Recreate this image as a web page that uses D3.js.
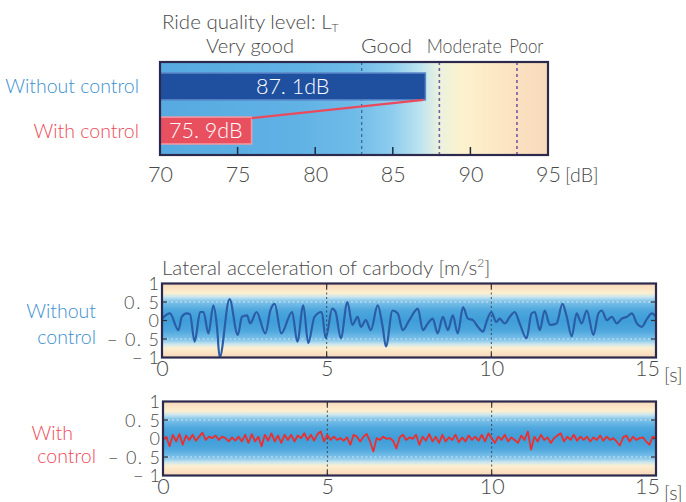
<!DOCTYPE html>
<html>
<head>
<meta charset="utf-8">
<script src="https://cdn.jsdelivr.net/npm/d3@7/dist/d3.min.js"></script>
<style>
  html, body { margin: 0; padding: 0; background: #fff; }
  svg { display: block; font-family: "Lato", "Open Sans", sans-serif; font-weight: 300; }
</style>
</head>
<body>
<svg id="chart" width="686" height="502"></svg>
<script>
// ---------------- DATA ----------------
const rideCategories = ["Without control", "With control"];
const rideValues = [87.1, 75.9];
const rideValueLabels = ["87. 1dB", "75. 9dB"];
const rideTicks = [70, 75, 80, 85, 90, 95];
const rideBoundaries = [83, 88, 93];
const rideLevels = [
  { label: "Very good", at: 75.8 },
  { label: "Good", at: 84.6 },
  { label: "Moderate", at: 89.6 },
  { label: "Poor", at: 93.6 }
];

const timeTicks = [0, 5, 10, 15];
const accelTicks = [1, 0.5, 0, -0.5, -1];
const accelTickLabels = ["1", "0. 5", "0", "\u2212 0. 5", "\u2212 1"];

// Without control: time [s] and lateral acceleration [m/s^2]
const timeWithout = [
  0.00, 0.24, 0.50, 0.60, 0.75, 0.85, 0.99, 1.16, 1.26, 1.41, 1.56, 1.67, 1.75, 2.05, 2.30, 2.43, 2.58, 2.68, 2.87,
  3.14, 3.29, 3.42, 3.62, 3.95, 4.11, 4.29, 4.44, 4.63, 4.85, 4.97, 5.17, 5.27, 5.43, 5.63, 5.78, 5.94, 6.04, 6.19,
  6.34, 6.55, 6.70, 6.80, 7.00, 7.16, 7.31, 7.51, 7.77, 7.92, 8.07, 8.22, 8.37, 8.53, 8.68, 8.83, 8.98, 9.14, 9.29,
  9.44, 9.59, 9.75, 9.85, 10.00, 10.15, 10.25, 10.41, 10.56, 10.71, 10.86, 11.07, 11.22, 11.32, 11.47, 11.62, 11.78,
  11.98, 12.16, 12.29, 12.44, 12.59, 12.74, 12.90, 13.10, 13.25, 13.35, 13.51, 13.66, 13.81, 13.96, 14.12, 14.27,
  14.42, 14.57, 14.73, 14.88, 15.00
];
const accelWithout = [
  0.05, 0.19, -0.26, 0.10, 0.19, 0.17, -0.57, 0.23, 0.23, -0.35, 0.41, -0.17, -1.00, 0.58, -0.39, 0.10, 0.14, -0.08, 0.23,
  -0.35, 0.27, 0.45, -0.35, 0.23, -0.57, 0.41, -0.61, 0.10, 0.23, -0.48, 0.32, 0.23, -0.48, 0.50, -0.12, 0.10, -0.17, 0.01,
  -0.26, 0.41, -0.17, -0.70, 0.27, 0.19, -0.26, 0.01, 0.32, -0.26, -0.08, 0.05, -0.35, 0.10, -0.26, 0.14, -0.35, 0.36, 0.05,
  0.01, -0.17, -0.30, -0.04, 0.23, -0.04, 0.05, -0.08, 0.10, 0.23, -0.08, -0.48, 0.19, 0.23, -0.26, 0.27, -0.12,
  -0.08, 0.45, 0.10, -0.43, 0.19, -0.08, 0.27, -0.39, 0.19, 0.27, 0.01, 0.10, -0.08, 0.05, 0.10, 0.19,
  -0.08, -0.17, 0.05, 0.19, 0.10
];

// With control: sampled every 0.1 s from 0 to 15 s
const sampleStep = 0.1;
const accelWith = [
  -0.04, 0.05, -0.21, 0.10, -0.08, 0.12, -0.17, 0.08, -0.04, 0.10,
  -0.06, 0.05, 0.16, -0.04, 0.05, 0.01, 0.08, -0.04, 0.05, 0.01,
  -0.08, 0.03, -0.06, 0.05, -0.08, 0.10, -0.12, 0.12, -0.08, 0.05,
  -0.21, 0.10, -0.06, 0.14, -0.08, 0.08, -0.12, 0.10, -0.04, 0.10,
  -0.08, 0.08, 0.01, 0.14, -0.04, 0.10, -0.06, 0.12, 0.19, -0.08,
  0.10, -0.04, 0.05, -0.04, 0.01, -0.06, 0.03, -0.17, 0.10, 0.05,
  -0.08, 0.05, 0.12, -0.08, -0.35, 0.01, -0.04, 0.05, -0.01, 0.01,
  -0.06, -0.27, 0.03, 0.10, -0.04, 0.03, -0.01,
  0.10, -0.17, 0.05, -0.06, 0.12, -0.08, 0.05, -0.12, 0.10, -0.08,
  0.03, -0.04, 0.10, -0.10, 0.03, -0.08, 0.08, -0.04, 0.05, -0.06,
  0.10, -0.08, 0.14, 0.01, -0.12, 0.05, -0.04, 0.10, -0.08, 0.03,
  -0.04, -0.12, 0.08, -0.04, 0.19, -0.30, 0.05, -0.08, 0.10, -0.04,
  0.03, -0.12, 0.01, 0.08, 0.14, -0.08, 0.05, -0.04, 0.10, -0.06,
  0.05, -0.04, 0.05, -0.08, 0.03, -0.04, 0.08, -0.06, 0.05, -0.04,
  0.01, -0.08, -0.19, 0.03, 0.08, -0.08, 0.05, -0.04, 0.01, 0.03,
  -0.08, -0.17, 0.05, 0.01
];

// ---------------- COLOURS ----------------
const cBlueText = "#3b8fd0";
const cRedText = "#ee4a5a";
const cFrame = "#2b2a4e";
const cText = "#4a4a4a";

const svg = d3.select("#chart");
const defs = svg.append("defs");

// ================= TOP: ride quality bar chart =================
const xRide = d3.scaleLinear().domain([70, 95]).range([160, 548]);
const yRide = d3.scaleBand().domain(rideCategories).range([62, 155]).paddingInner(0.39).paddingOuter(0.25);

const gradRide = defs.append("linearGradient").attr("id", "gradRide")
  .attr("gradientUnits", "userSpaceOnUse")
  .attr("x1", xRide(70)).attr("x2", xRide(95)).attr("y1", 0).attr("y2", 0);
[[0, "#56aadf"], [0.35, "#60b2e5"], [0.5, "#6ebbe8"], [0.6, "#8ecdee"], [0.67, "#bde3ef"],
 [0.72, "#eaf2de"], [0.78, "#fdf2cd"], [0.88, "#fce6c4"], [1, "#f8d9bb"]]
  .forEach(([o, c]) => gradRide.append("stop").attr("offset", o).attr("stop-color", c));

const gTop = svg.append("g");
gTop.append("rect")
  .attr("x", xRide(70)).attr("y", 62)
  .attr("width", xRide(95) - xRide(70)).attr("height", 93)
  .attr("fill", "url(#gradRide)");

gTop.selectAll("line.bound").data(rideBoundaries).enter().append("line")
  .attr("x1", d => xRide(d)).attr("x2", d => xRide(d))
  .attr("y1", 62).attr("y2", 155)
  .attr("stroke", (d, i) => i === 0 ? "#2e4f7a" : "#7a5aa0")
  .attr("stroke-width", (d, i) => i === 0 ? 1 : 1.6)
  .attr("stroke-dasharray", "3,3");

gTop.selectAll("line.tk").data(rideTicks.slice(1, -1)).enter().append("line")
  .attr("x1", d => xRide(d)).attr("x2", d => xRide(d))
  .attr("y1", 155).attr("y2", 147)
  .attr("stroke", "#1e2a40").attr("stroke-width", 1.5);

const barColors = ["#1f4f9f", "#e9505f"];
const barStroke = ["#5a86c8", "#f59aa3"];
gTop.selectAll("rect.bar").data(rideValues).enter().append("rect")
  .attr("x", xRide(70))
  .attr("y", (d, i) => yRide(rideCategories[i]))
  .attr("width", d => xRide(d) - xRide(70))
  .attr("height", yRide.bandwidth())
  .attr("fill", (d, i) => barColors[i])
  .attr("stroke", (d, i) => barStroke[i]).attr("stroke-width", 1.5);

gTop.append("line")
  .attr("x1", xRide(rideValues[0]) - 2)
  .attr("y1", yRide(rideCategories[0]) + yRide.bandwidth())
  .attr("x2", xRide(rideValues[1]))
  .attr("y2", yRide(rideCategories[1]) + 1)
  .attr("stroke", "#ea4a5b").attr("stroke-width", 2.2);

gTop.selectAll("text.bl").data(rideValues).enter().append("text")
  .attr("x", d => (xRide(d) + xRide(70)) / 2)
  .attr("y", (d, i) => yRide(rideCategories[i]) + yRide.bandwidth() / 2 + 7.5)
  .attr("text-anchor", "middle").attr("fill", "#fff")
  .attr("font-size", 21.5)
  .text((d, i) => rideValueLabels[i]);

gTop.append("rect")
  .attr("x", xRide(70)).attr("y", 62)
  .attr("width", xRide(95) - xRide(70)).attr("height", 93)
  .attr("fill", "none").attr("stroke", cFrame).attr("stroke-width", 2.2);

gTop.selectAll("text.cat").data(rideCategories).enter().append("text")
  .attr("x", 139)
  .attr("y", d => yRide(d) + yRide.bandwidth() / 2 + 7)
  .attr("text-anchor", "end")
  .attr("font-size", 19.5)
  .attr("fill", (d, i) => i === 0 ? cBlueText : cRedText)
  .text(d => d);

const axRide = d3.axisBottom(xRide).tickValues(rideTicks).tickSize(0).tickPadding(0).tickFormat(d3.format("d"));
const axRideG = gTop.append("g").attr("transform", "translate(0,162)").call(axRide);
axRideG.select(".domain").remove();
axRideG.selectAll("text").attr("font-size", 21.5).attr("fill", cText)
  .attr("font-family", "Lato, sans-serif").attr("font-weight", 300).attr("dy", "0.95em");
gTop.append("text").attr("x", 565).attr("y", 182).attr("font-size", 19.5).attr("fill", cText).text("[dB]");

const t1 = gTop.append("text").attr("x", 162).attr("y", 29).attr("font-size", 20.5).attr("fill", cText);
t1.append("tspan").text("Ride quality level: L");
t1.append("tspan").attr("font-size", 12).attr("dy", 3).text("T");

const levelWidths = [88, 51, 75, 34];
gTop.selectAll("text.lvl").data(rideLevels).enter().append("text")
  .attr("x", d => xRide(d.at)).attr("y", 53)
  .attr("text-anchor", "middle").attr("font-size", 20).attr("fill", cText)
  .attr("textLength", (d, i) => levelWidths[i])
  .attr("lengthAdjust", "spacingAndGlyphs")
  .text(d => d.label);

// ================= BOTTOM: acceleration time histories =================
const gradAcc = defs.append("linearGradient").attr("id", "gradAcc")
  .attr("x1", 0).attr("x2", 0).attr("y1", 0).attr("y2", 1);
[[0, "#f8d6ba"], [0.07, "#fbe4c4"], [0.13, "#fcefd0"], [0.18, "#cbe7ef"], [0.24, "#7fc3ea"],
 [0.36, "#4ea7dd"], [0.5, "#3f9dd8"], [0.64, "#4ea7dd"], [0.76, "#7fc3ea"], [0.82, "#cbe7ef"],
 [0.87, "#fcefd0"], [0.93, "#fbe4c4"], [1, "#f8d6ba"]]
  .forEach(([o, c]) => gradAcc.append("stop").attr("offset", o).attr("stop-color", c));

const accelLabelWidths = [null, 35, null, 52, 27];

function drawPanel(opts) {
  const x = d3.scaleLinear().domain([0, 15]).range([opts.left, opts.right]);
  const y = d3.scaleLinear().domain([-1, 1]).range([opts.bottom, opts.top]);
  const g = svg.append("g");
  const w = opts.right - opts.left, h = opts.bottom - opts.top;

  g.append("rect").attr("x", opts.left).attr("y", opts.top).attr("width", w).attr("height", h)
    .attr("fill", "url(#gradAcc)");

  g.selectAll("line.hg").data([0.5, -0.5]).enter().append("line")
    .attr("x1", opts.left).attr("x2", opts.right)
    .attr("y1", d => y(d)).attr("y2", d => y(d))
    .attr("stroke", "#d6e4ef").attr("stroke-width", 1).attr("stroke-dasharray", "2,2.5");
  g.selectAll("line.vg").data([5, 10]).enter().append("line")
    .attr("x1", d => x(d)).attr("x2", d => x(d))
    .attr("y1", opts.top).attr("y2", opts.bottom)
    .attr("stroke", "#3a3a3a").attr("stroke-width", 0.9).attr("stroke-dasharray", "2,2.5");
  g.selectAll("line.ty").data([0.5, 0, -0.5]).enter().append("line")
    .attr("x1", opts.right - 5).attr("x2", opts.right)
    .attr("y1", d => y(d)).attr("y2", d => y(d)).attr("stroke", "#333").attr("stroke-width", 1.2);
  g.selectAll("line.ty2").data([0.5, 0, -0.5]).enter().append("line")
    .attr("x1", opts.left).attr("x2", opts.left + 5)
    .attr("y1", d => y(d)).attr("y2", d => y(d)).attr("stroke", "#333").attr("stroke-width", 1.2);
  g.selectAll("line.tx").data([5, 10]).enter().append("line")
    .attr("x1", d => x(d)).attr("x2", d => x(d))
    .attr("y1", opts.bottom).attr("y2", opts.bottom - 5).attr("stroke", "#333").attr("stroke-width", 1.2);
  g.selectAll("line.tx2").data([5, 10]).enter().append("line")
    .attr("x1", d => x(d)).attr("x2", d => x(d))
    .attr("y1", opts.top).attr("y2", opts.top + 5).attr("stroke", "#333").attr("stroke-width", 1.2);

  defs.append("clipPath").attr("id", opts.id + "clip").append("rect")
    .attr("x", opts.left).attr("y", opts.top).attr("width", w).attr("height", h);
  const line = d3.line().x(d => x(d[0])).y(d => y(d[1])).curve(opts.curve);
  g.append("path").datum(opts.data)
    .attr("clip-path", `url(#${opts.id}clip)`)
    .attr("d", line).attr("fill", "none")
    .attr("stroke", opts.color).attr("stroke-width", opts.width).attr("stroke-linejoin", "round");

  g.append("rect").attr("x", opts.left).attr("y", opts.top).attr("width", w).attr("height", h)
    .attr("fill", "none").attr("stroke", cFrame).attr("stroke-width", 2.2);

  const ay = d3.axisLeft(y).tickValues(accelTicks).tickSize(0).tickPadding(3)
    .tickFormat((d, i) => accelTickLabels[i]);
  const ayG = g.append("g").attr("transform", `translate(${opts.left},0)`).call(ay);
  ayG.select(".domain").remove();
  ayG.selectAll("text").attr("font-size", 18).attr("fill", cText)
    .attr("font-family", "Lato, sans-serif").attr("font-weight", 300).attr("dy", "0.36em")
    .each(function (d, i) {
      if (accelLabelWidths[i]) d3.select(this).attr("textLength", accelLabelWidths[i]).attr("lengthAdjust", "spacing");
    });

  const ax = d3.axisBottom(x).tickValues(timeTicks).tickSize(0).tickPadding(0).tickFormat(d3.format("d"));
  const axG = g.append("g").attr("transform", `translate(0,${opts.bottom + 3})`).call(ax);
  axG.select(".domain").remove();
  axG.selectAll("text").attr("font-size", 21.5).attr("fill", cText)
    .attr("font-family", "Lato, sans-serif").attr("font-weight", 300).attr("dy", "0.72em")
    .attr("dx", d => d === 15 ? -9 : 0);
  g.append("text").attr("x", opts.right + 8).attr("y", opts.bottom + 24)
    .attr("font-size", 19.5).attr("fill", cText).text("[s]");

  opts.sideLabel.forEach((s) => {
    g.append("text").attr("x", s.x).attr("y", s.y).attr("text-anchor", "end")
      .attr("font-size", 19.5).attr("fill", opts.labelColor).text(s.text);
  });
}

drawPanel({
  id: "p1", left: 162, right: 656, top: 283.5, bottom: 357.5,
  data: timeWithout.map((t, i) => [t, accelWithout[i]]),
  color: "#2a5da8", width: 2.2, curve: d3.curveMonotoneX,
  labelColor: cBlueText,
  sideLabel: [{ text: "Without", x: 96, y: 318 }, { text: "control", x: 96, y: 344 }]
});

drawPanel({
  id: "p2", left: 163, right: 656, top: 401.5, bottom: 475.5,
  data: accelWith.map((v, i) => [i * sampleStep, v]),
  color: "#ee2e2e", width: 1.8, curve: d3.curveLinear,
  labelColor: cRedText,
  sideLabel: [{ text: "With", x: 73, y: 440 }, { text: "control", x: 96, y: 463 }]
});

const t2 = svg.append("text").attr("x", 162).attr("y", 275).attr("font-size", 20.5).attr("fill", cText);
t2.append("tspan").text("Lateral acceleration of carbody [m/s");
t2.append("tspan").attr("font-size", 12).attr("dy", -8).text("2");
t2.append("tspan").attr("dy", 8).text("]");
</script>
</body>
</html>
